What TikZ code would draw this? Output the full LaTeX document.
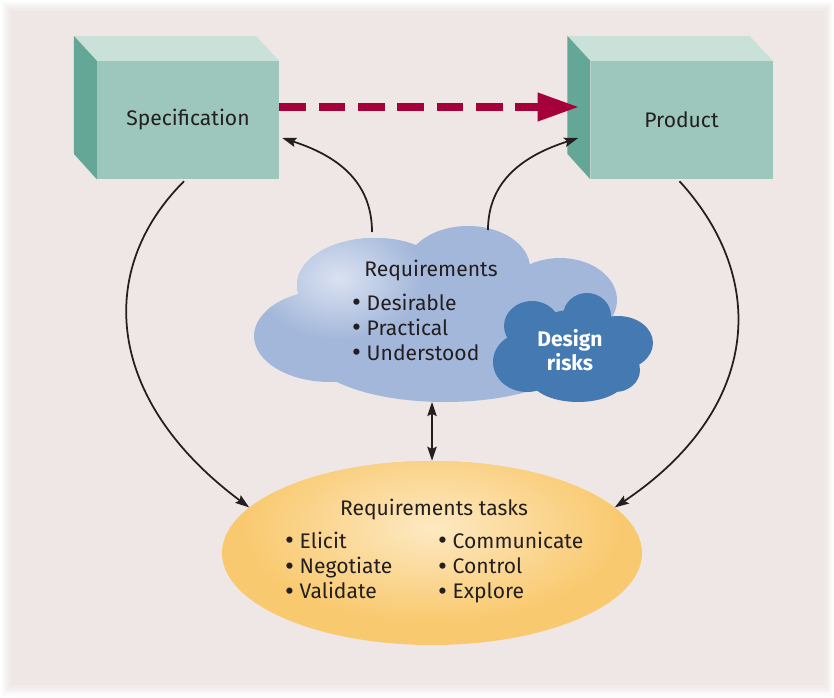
\documentclass[tikz,border=0pt]{standalone}
\usepackage{fontspec}
\setmainfont{Fira Sans}
\usetikzlibrary{shapes.geometric,arrows.meta}

\definecolor{bgpink}{HTML}{EFE7E6}
\definecolor{boxfront}{HTML}{9DC7BC}
\definecolor{boxtop}{HTML}{C9E1D9}
\definecolor{boxside}{HTML}{64A797}
\definecolor{cloudlight}{HTML}{A3B7DA}
\definecolor{cloudglow}{HTML}{DAE2F1}
\definecolor{clouddark}{HTML}{4479B1}
\definecolor{taskouter}{HTML}{F9C96F}
\definecolor{taskinner}{HTML}{FDE9C2}
\definecolor{dashred}{HTML}{A6003A}
\definecolor{ink}{HTML}{231F20}

% lobes of the two clouds
\newcommand{\reqcloud}{(330,336) ellipse (76 and 46) (375,285) ellipse (78 and 47)
  (468,268) ellipse (62 and 42) (560,300) ellipse (57 and 42) (445,352) ellipse (135 and 50)
  (480,310) ellipse (70 and 40)}
\newcommand{\riskcloud}{(587,316) ellipse (24 and 23) (532,326) ellipse (28 and 25)
  (527,362) ellipse (34 and 30) (618,343) ellipse (35 and 27) (578,378) ellipse (48 and 24)
  (615,370) ellipse (25 and 22) (570,345) ellipse (40 and 35)}
\newcommand{\dotitem}{\raisebox{-0.15ex}{\scalebox{1.3}{\textbullet}}}

\begin{document}
\begin{tikzpicture}[x=0.03cm,y=-0.03cm,
  >={Stealth[length=12pt,width=8pt,inset=2pt]},
  txt/.style={font=\fontsize{18}{22}\selectfont, text=ink, inner sep=0pt},
  box/.style={txt, rectangle, fill=boxfront, minimum width=5.46cm, minimum height=3.54cm},
  link/.style={draw=ink, line width=1.5pt, ->},
  item/.style={txt, anchor=base west, text height=12pt, text depth=3pt}]
\useasboundingbox (0,0) rectangle (834,698);

% background
\fill[white] (0,0) rectangle (834,698);
\foreach \d/\o in {2/0.15,4/0.25,6/0.35,8/0.5,11/1}
  \fill[bgpink, opacity=\o] (\d,\d) rectangle (834-0.8*\d,698-1.2*\d);

% boxes
\node[box] (spec) at (188,120) {Specification};
\node[box] (prod) at (681.5,120) {Product};
\foreach \b in {spec,prod}
{
 \fill[boxtop] (\b.north west) -- ++(-23,-25) -- ++(182,0) -- (\b.north east) -- cycle;
 \fill[boxside] (\b.north west) -- ++(-23,-25) -- ++(0,118) -- (\b.south west) -- cycle;
}

% requirements cloud
\fill[cloudlight] \reqcloud;
\begin{scope}
 \clip \reqcloud;
 \shade[inner color=cloudglow, outer color=cloudlight] (338,278) ellipse (85 and 62);
\end{scope}
\fill[clouddark] \riskcloud;
\coordinate (reqL) at (372,232);
\coordinate (reqR) at (488,230);
\coordinate (reqB) at (432,402);

\node[txt, anchor=base] (req) at (431,276) {Requirements};
\foreach \t [count=\i] in {Desirable,Practical,Understood}
  \node[item] (req\i) at (352,285+25*\i) {\dotitem\ \t};
\node[txt, anchor=base, text=white, font=\fontsize{18}{22}\selectfont\bfseries] (risk1) at (570,346) {Design};
\node[txt, anchor=base, text=white, font=\fontsize{18}{22}\selectfont\bfseries] (risk2) at (570,370) {risks};

% tasks ellipse
\node[ellipse, fill=taskouter, minimum width=12.6cm, minimum height=5.52cm, inner sep=0pt] (tasks) at (432,553) {};
\begin{scope}
 \clip (432,553) ellipse (210 and 92);
 \shade[inner color=taskinner, outer color=taskouter] (432,528) ellipse (190 and 95);
\end{scope}
\node[txt, anchor=base] (tasktitle) at (434,515) {Requirements tasks};
\foreach \t [count=\i] in {Elicit,Negotiate,Validate}
  \node[item] (ta\i) at (285,523+25.3*\i) {\dotitem\ \t};
\foreach \t [count=\i] in {Communicate,Control,Explore}
  \node[item] (tb\i) at (438,523+25.3*\i) {\dotitem\ \t};

% connectors
\draw[dashred, line width=6.8pt, dash pattern=on 0.8cm off 0.38cm,
  -{Triangle[length=1.25cm,width=0.8cm]}] ([shift={(0,-13)}]spec.east) -- ([shift={(-11,-13)}]prod.west);
\draw[link] (reqL) .. controls (372,180) and (335,155) .. ([shift={(3,18)}]spec.east);
\draw[link] (reqR) .. controls (488,180) and (525,155) .. ([shift={(-12,18)}]prod.west);
\draw[link] ([shift={(-4,2)}]spec.south) .. controls (95,270) and (105,400) .. (tasks.166);
\draw[link] ([shift={(-2,2)}]prod.south) .. controls (770,280) and (760,410) .. (tasks.14);
\draw[link, <->] (reqB) -- (tasks.north);

\end{tikzpicture}
\end{document}
